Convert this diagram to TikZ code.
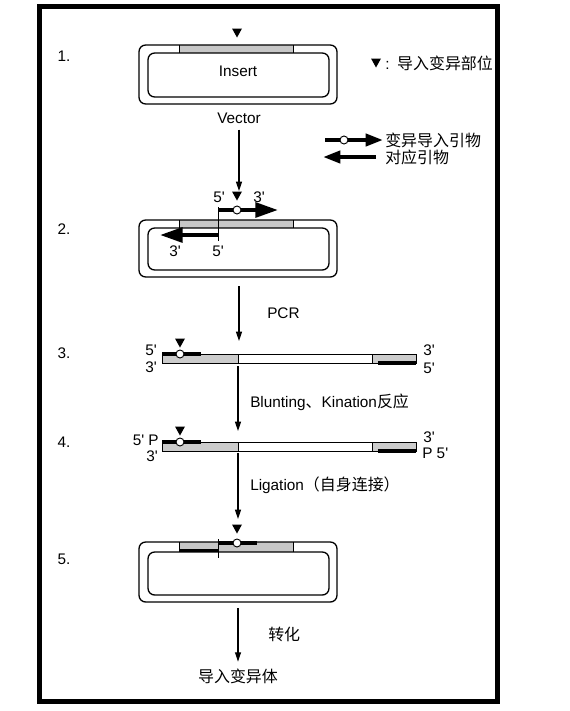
\documentclass[tikz,border=0pt]{standalone}
\usepackage{fontspec}
\setmainfont{Liberation Sans}
\newfontfamily\cjk[Scale=1.04]{Noto Sans CJK SC}
\usetikzlibrary{arrows.meta}
\newcommand\myprime{\textquotesingle}
\begin{document}
\begin{tikzpicture}[x=0.75pt,y=-0.75pt,
  txt/.style={inner sep=0pt,font=\fontsize{11.5}{13}\selectfont},
  outerbox/.style={draw,line width=1pt,rounded corners=5pt},
  innerbox/.style={draw,line width=1pt,rounded corners=5pt},
  band/.style={fill=black!22},
  bandend/.style={draw,line width=0.6pt},
  dna/.style={draw,line width=0.75pt},
  strand/.style={line width=2.3pt},
  flow/.style={line width=0.8pt,-{Triangle[length=7pt,width=4.5pt]}},
  primer/.style={line width=3pt,-{Triangle[length=17pt,width=11pt]}},
  lprimer/.style={line width=3pt,-{Triangle[length=13pt,width=9pt]}},
  mut/.style={circle,draw,fill=white,line width=0.7pt,minimum size=6pt,inner sep=0pt},
  guide/.style={line width=0.5pt}]
\useasboundingbox (0,0) rectangle (570,711);
% frame
\draw[line width=3.9pt] (39.5,6.5) rectangle (497.5,701.5);

\newcommand\tri[2]{\fill (#1-5,#2-4.5) -- (#1+5,#2-4.5) -- (#1,#2+4.5) -- cycle;}

% step numbers
\node[txt] (n1) at (64,56) {1.};
\node[txt] (n2) at (64,229) {2.};
\node[txt] (n3) at (64,353) {3.};
\node[txt] (n4) at (64,442) {4.};
\node[txt] (n5) at (64,559) {5.};

% ---------- step 1 ----------
\fill[band] (179,45) rectangle (293,53);
\draw[outerbox] (139,45) rectangle (337,104);
\draw[innerbox] (148,53) rectangle (329,97);
\draw[bandend] (179,45) -- (179,53) (293,45) -- (293,53);
\tri{237}{33}
\node[txt] (ins) at (238,71) {Insert};
\node[txt] (vec) at (239,118) {Vector};

% legend
\tri{376}{63}
\node[txt,anchor=west] (leg1) at (385,63) {:\hspace{0.5em}\cjk 导入变异部位};
\coordinate (la1) at (325,140);
\coordinate (lb1) at (383,140);
\draw[lprimer] (la1) -- (lb1);
\node[mut] (lm) at (344,140) {};
\node[txt,anchor=west] (leg2) at (385,140) {\cjk 变异导入引物};
\coordinate (la2) at (376,157);
\coordinate (lb2) at (323,157);
\draw[lprimer] (la2) -- (lb2);
\node[txt,anchor=west] (leg3) at (385,157) {\cjk 对应引物};

% arrow 1 -> 2
\coordinate (s2top) at (239,191);
\draw[flow] (vec.south) ++(0,6) coordinate (vecb) (vecb) -- (s2top);

% ---------- step 2 ----------
\fill[band] (179,220) rectangle (293,228);
\draw[outerbox] (139,220) rectangle (337,277);
\draw[innerbox] (148,228) rectangle (329,270);
\draw[bandend] (179,220) -- (179,228) (293,220) -- (293,228);
\coordinate (p1a) at (218,210);
\coordinate (p1b) at (278,210);
\coordinate (p2a) at (218,235);
\coordinate (p2b) at (160,235);
\coordinate (g1) at (218,207);
\coordinate (g2) at (218,241);
\draw[guide] (g1) -- (g2);
\draw[primer] (p1a) -- (p1b);
\draw[primer] (p2a) -- (p2b);
\node[mut] (m2) at (237,210) {};
\tri{237}{196}
\node[txt] (l2a) at (219,197) {5\myprime};
\node[txt] (l2b) at (259,197) {3\myprime};
\node[txt] (l2c) at (175,251) {3\myprime};
\node[txt] (l2d) at (218,251) {5\myprime};

% arrow 2 -> 3
\coordinate (a2s) at (239,286);
\coordinate (a2e) at (239,341);
\draw[flow] (a2s) -- (a2e);
\node[txt,anchor=west] (pcr) at (267,313) {PCR};

% ---------- step 3 ----------
\fill[black!20] (162,354) rectangle (238,363);
\fill[black!20] (372,354) rectangle (416,363);
\draw[dna] (162,354) rectangle (416,363);
\draw[dna] (238,354) -- (238,363) (372,354) -- (372,363);
\coordinate (s3a) at (162,354);
\coordinate (s3b) at (201,354);
\draw[strand] (s3a) -- (s3b);
\coordinate (s3c) at (378,363);
\coordinate (s3d) at (416,363);
\draw[strand] (s3c) -- (s3d);
\node[mut] (m3) at (180,354) {};
\tri{180}{343}
\node[txt] (l3a) at (151,350) {5\myprime};
\node[txt] (l3b) at (151,367) {3\myprime};
\node[txt] (l3c) at (429,350) {3\myprime};
\node[txt] (l3d) at (429,368) {5\myprime};

% arrow 3 -> 4
\coordinate (a3s) at (238,366);
\coordinate (a3e) at (238,431);
\draw[flow] (a3s) -- (a3e);
\node[txt,anchor=west] (blunt) at (250,402) {Blunting{\cjk 、}Kination{\cjk 反应}};

% ---------- step 4 ----------
\fill[black!20] (162,442) rectangle (238,451);
\fill[black!20] (372,442) rectangle (416,451);
\draw[dna] (162,442) rectangle (416,451);
\draw[dna] (238,442) -- (238,451) (372,442) -- (372,451);
\coordinate (s4a) at (162,442);
\coordinate (s4b) at (201,442);
\draw[strand] (s4a) -- (s4b);
\coordinate (s4c) at (378,451);
\coordinate (s4d) at (416,451);
\draw[strand] (s4c) -- (s4d);
\node[mut] (m4) at (180,442) {};
\tri{180}{431}
\node[txt,anchor=east] (l4a) at (159,440) {5\myprime{} P};
\node[txt] (l4b) at (152,456) {3\myprime};
\node[txt] (l4c) at (429,437) {3\myprime};
\node[txt,anchor=west] (l4d) at (422,453) {P 5\myprime};

% arrow 4 -> 5
\coordinate (a4s) at (238,453);
\coordinate (a4e) at (238,519);
\draw[flow] (a4s) -- (a4e);
\node[txt,anchor=west] (lig) at (250,485) {Ligation{\cjk （自身连接）}};

% ---------- step 5 ----------
\fill[band] (179,542) rectangle (293,552);
\draw[outerbox] (139,542) rectangle (337,602);
\draw[innerbox] (148,552) rectangle (329,595);
\draw[bandend] (179,542) -- (179,552) (293,542) -- (293,552);
\coordinate (s5a) at (179,550.5);
\coordinate (s5b) at (218,550.5);
\draw[strand] (s5a) -- (s5b);
\coordinate (s5c) at (218,543);
\coordinate (s5d) at (257,543);
\draw[strand] (s5c) -- (s5d);
\coordinate (g3) at (218,539);
\coordinate (g4) at (218,558);
\draw[guide] (g3) -- (g4);
\node[mut] (m5) at (237,543) {};
\tri{237}{529}

% arrow 5 -> result
\coordinate (a5s) at (238,608);
\node[txt] (res) at (238,676) {\cjk 导入变异体};
\draw[flow] (a5s) -- ([yshift=5pt]res.north);
\node[txt,anchor=west] (trans) at (268,634) {\cjk 转化};
\end{tikzpicture}
\end{document}
